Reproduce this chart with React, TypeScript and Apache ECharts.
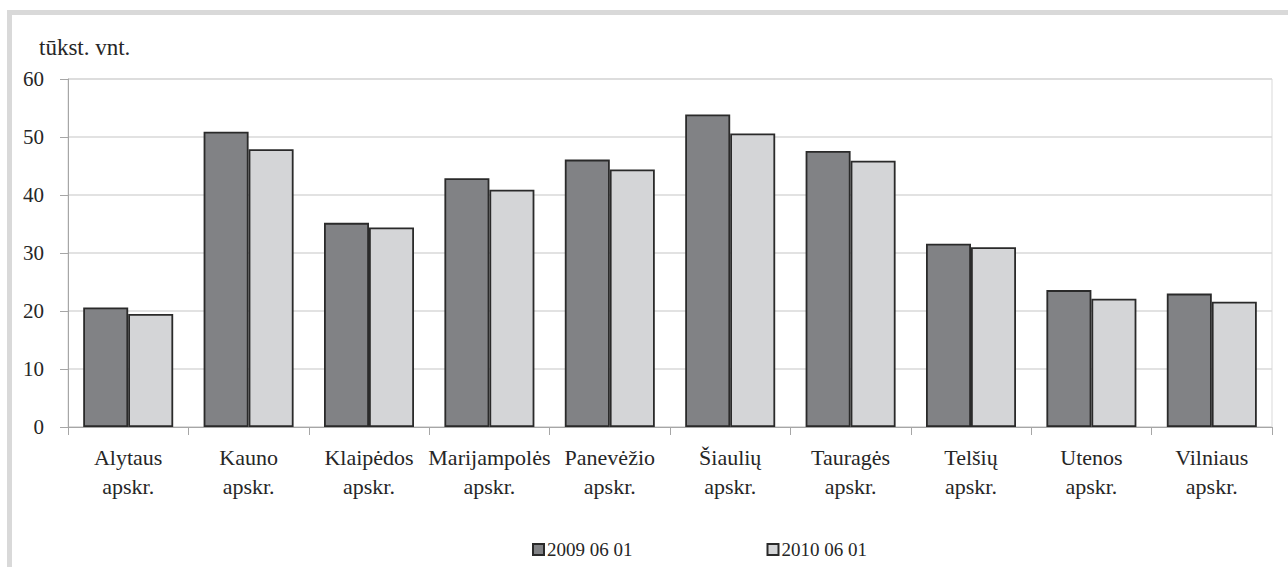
import React, { useEffect, useRef } from "react";
import * as echarts from "echarts";

const categories = [
  "Alytaus\napskr.",
  "Kauno\napskr.",
  "Klaipėdos\napskr.",
  "Marijampolės\napskr.",
  "Panevėžio\napskr.",
  "Šiaulių\napskr.",
  "Tauragės\napskr.",
  "Telšių\napskr.",
  "Utenos\napskr.",
  "Vilniaus\napskr.",
];
const seriesNames = ["2009 06 01", "2010 06 01"];
const values2009 = [20.6, 50.9, 35.2, 42.9, 46.1, 53.9, 47.6, 31.6, 23.6, 23.0];
const values2010 = [19.5, 47.9, 34.4, 40.9, 44.4, 50.6, 45.9, 31.0, 22.1, 21.6];
const yMin = 0;
const yMax = 60;
const yInterval = 10;
const unitLabel = "tūkst. vnt.";

const FONT = "Liberation Serif";
const TEXT = "#262626";
const AXIS = "#a6a6a6";

export default function App() {
  const ref = useRef<HTMLDivElement>(null);
  useEffect(() => {
    if (!ref.current) return;
    const chart = echarts.init(ref.current, undefined, { renderer: "svg" });
    chart.setOption({
      animation: false,
      backgroundColor: "#ffffff",
      textStyle: { fontFamily: FONT },
      title: {
        text: unitLabel,
        left: 34,
        top: 31,
        textStyle: { fontFamily: FONT, fontSize: 23, fontWeight: "normal", color: TEXT },
      },
      graphic: [
        {
          type: "rect",
          shape: { x: 9.5, y: 12.5, width: 1290, height: 600 },
          style: { fill: "none", stroke: "#d9d9d9", lineWidth: 5 },
          silent: true,
        },
      ],
      legend: {
        data: seriesNames,
        left: 527,
        top: 535,
        itemWidth: 11,
        itemHeight: 11,
        itemGap: 134,
        icon: "rect",
        textStyle: { fontFamily: FONT, fontSize: 19, color: TEXT, padding: [0, 0, 0, -2] },
      },
      grid: {
        left: 68,
        right: 16,
        top: 79,
        bottom: 140,
        show: true,
        borderColor: "#d9d9d9",
        borderWidth: 1,
      },
      xAxis: {
        type: "category",
        data: categories,
        axisLine: { lineStyle: { color: AXIS, width: 1 } },
        axisTick: { show: true, length: 8, lineStyle: { color: AXIS } },
        axisLabel: {
          interval: 0,
          fontFamily: FONT,
          fontSize: 22,
          lineHeight: 29,
          margin: 16,
          color: TEXT,
        },
      },
      yAxis: {
        type: "value",
        min: yMin,
        max: yMax,
        interval: yInterval,
        axisLine: { show: true, lineStyle: { color: AXIS, width: 1 } },
        axisTick: { show: true, length: 8, lineStyle: { color: AXIS } },
        splitLine: { lineStyle: { color: "#d9d9d9", width: 1.5 } },
        axisLabel: { fontFamily: FONT, fontSize: 21, margin: 24, color: TEXT },
      },
      series: [
        {
          name: seriesNames[0],
          type: "bar",
          data: values2009,
          barWidth: 45,
          barGap: "0%",
          itemStyle: { color: "#818285", borderColor: "#2a2a2a", borderWidth: 1.8 },
        },
        {
          name: seriesNames[1],
          type: "bar",
          data: values2010,
          barWidth: 45,
          barGap: "0%",
          itemStyle: { color: "#d4d5d7", borderColor: "#2a2a2a", borderWidth: 1.8 },
        },
      ],
    });
    return () => chart.dispose();
  }, []);
  return (
    <div
      ref={ref}
      style={{ position: "fixed", left: 0, top: 0, width: 1288, height: 567 }}
    />
  );
}
